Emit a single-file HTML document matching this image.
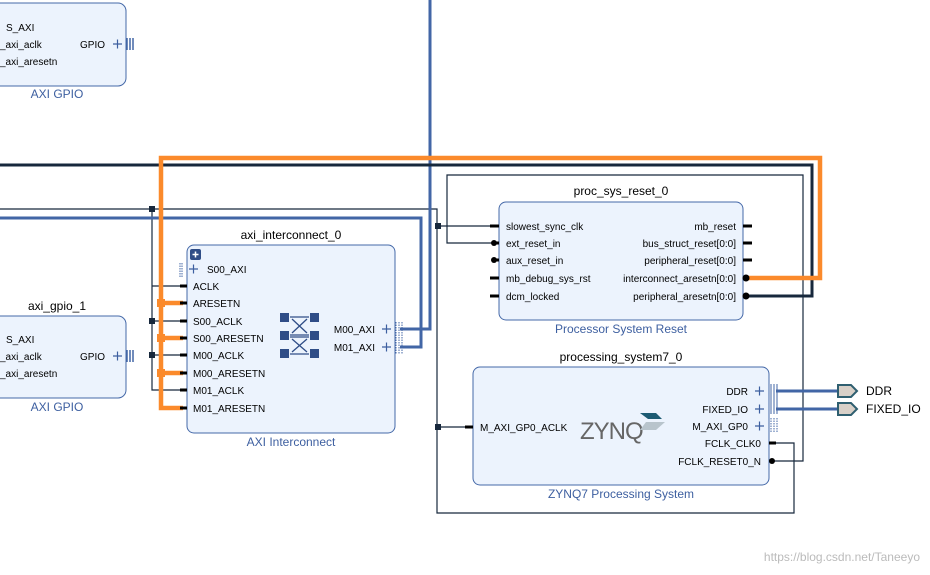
<!DOCTYPE html>
<html><head><meta charset="utf-8"><style>
html,body{margin:0;padding:0;background:#fff;}
svg{display:block;font-family:"Liberation Sans",sans-serif;}
.p{font-size:10px;fill:#000;}
.t{font-size:12px;fill:#000;}
.l{font-size:12px;fill:#3d5fa0;}
.box{fill:#ecf3fd;stroke:#4468a8;stroke-width:1;}
.pin{stroke:#000;stroke-width:3;}
.th{stroke:#17283c;stroke-width:1.2;fill:none;}
.bl{stroke:#4266a6;stroke-width:3;fill:none;}
.or{stroke:#fb8a2b;stroke-width:4.5;fill:none;}
.pl{stroke:#3d5fa0;stroke-width:1.2;}
</style></head><body>
<svg width="930" height="575" viewBox="0 0 930 575">
<!-- thin nets -->
<path class="th" d="M0 209 H437 V513 H794 V443 H772"/>
<path class="th" d="M152 209 V390 H183 M152 286 H183 M152 321 H183 M152 355 H183"/>
<path class="th" d="M438 226 H497 M438 427 H471"/>
<path class="th" d="M495 243 H447 V175 H803 V461 H772"/>
<rect x="149" y="206" width="6" height="6" fill="#17283c"/>
<rect x="149" y="318" width="6" height="6" fill="#17283c"/>
<rect x="149" y="352" width="6" height="6" fill="#17283c"/>
<rect x="435" y="223" width="6" height="6" fill="#17283c"/>
<rect x="435" y="424" width="6" height="6" fill="#17283c"/>
<!-- blue buses -->
<path class="bl" d="M400 329 H430 V0"/>
<path class="bl" d="M400 347 H421 V218 H0"/>
<path class="bl" d="M776 391 H840 M776 409 H840"/>
<!-- dark thick -->
<path d="M0 165 H812 V296 H745" stroke="#17283c" stroke-width="3" fill="none"/>
<!-- orange -->
<path class="or" d="M745 278 H820 V158 H161 V408 H183 M161 303 H183 M161 338 H183 M161 373 H183"/>
<rect x="157" y="299" width="8" height="8" fill="#fb8a2b"/>
<rect x="157" y="334" width="8" height="8" fill="#fb8a2b"/>
<rect x="157" y="369" width="8" height="8" fill="#fb8a2b"/>

<!-- AXI GPIO top -->
<rect class="box" x="-10" y="3" width="136" height="83" rx="8"/>
<text class="p" x="6" y="31">S_AXI</text>
<text class="p" x="0" y="48">_axi_aclk</text>
<text class="p" x="0" y="65">_axi_aresetn</text>
<text class="p" x="80" y="48">GPIO</text>
<path class="pl" d="M113 44 H122 M117.5 39.5 V48.5"/>
<path d="M127 38 V50 M130 38 V50 M133 38 V50" stroke="#4266a6" stroke-width="1.5"/>
<text class="l" x="57" y="98" text-anchor="middle">AXI GPIO</text>

<!-- axi_gpio_1 -->
<text class="t" x="57" y="310" text-anchor="middle">axi_gpio_1</text>
<rect class="box" x="-10" y="316" width="136" height="82" rx="8"/>
<text class="p" x="6" y="343">S_AXI</text>
<text class="p" x="0" y="360">_axi_aclk</text>
<text class="p" x="0" y="377">_axi_aresetn</text>
<text class="p" x="80" y="360">GPIO</text>
<path class="pl" d="M113 356 H122 M117.5 351.5 V360.5"/>
<path d="M127 350 V362 M130 350 V362 M133 350 V362" stroke="#4266a6" stroke-width="1.5"/>
<text class="l" x="57" y="411" text-anchor="middle">AXI GPIO</text>

<!-- interconnect -->
<text class="t" x="291" y="239" text-anchor="middle">axi_interconnect_0</text>
<rect class="box" x="187" y="245" width="208" height="188" rx="7"/>
<rect x="190" y="249" width="11" height="11" rx="2" fill="#2f4d87"/>
<path d="M192.5 254.5 H198.5 M195.5 251.5 V257.5" stroke="#fff" stroke-width="1.5"/>
<path d="M180 263 V277 M182 263 V277" stroke="#4266a6" stroke-width="1" stroke-dasharray="1.5,1"/>
<path class="pl" d="M189 269 H198 M193.5 264.5 V273.5"/>
<text class="p" x="207" y="273">S00_AXI</text>
<g class="p">
<text x="193" y="290">ACLK</text>
<text x="193" y="307">ARESETN</text>
<text x="193" y="325">S00_ACLK</text>
<text x="193" y="342">S00_ARESETN</text>
<text x="193" y="359">M00_ACLK</text>
<text x="193" y="377">M00_ARESETN</text>
<text x="193" y="394">M01_ACLK</text>
<text x="193" y="412">M01_ARESETN</text>
</g>
<path class="pin" d="M180 286 H187 M180 303 H187 M180 321 H187 M180 338 H187 M180 355 H187 M180 373 H187 M180 390 H187 M180 408 H187"/>
<g fill="#2f4d87">
<rect x="280" y="313" width="9" height="9"/><rect x="310" y="313" width="9" height="9"/>
<rect x="280" y="331" width="9" height="9"/><rect x="310" y="331" width="9" height="9"/>
<rect x="280" y="349" width="9" height="9"/><rect x="310" y="349" width="9" height="9"/>
</g>
<path d="M290 317 H309 M290 335 H309 M290 337 H309 M290 354 H309 M292 319 L307 333 M307 319 L292 333 M292 339 L307 352 M307 339 L292 352" stroke="#2f4d87" stroke-width="1.3"/>
<text class="p" x="375" y="333" text-anchor="end">M00_AXI</text>
<text class="p" x="375" y="351" text-anchor="end">M01_AXI</text>
<path class="pl" d="M382 329 H391 M386.5 324.5 V333.5 M382 347 H391 M386.5 342.5 V351.5"/>
<path d="M396 322 V354 M399 322 V354 M402 322 V354" stroke="#4266a6" stroke-width="1" stroke-dasharray="1.5,1"/>
<text class="l" x="291" y="446" text-anchor="middle">AXI Interconnect</text>

<!-- proc_sys_reset -->
<text class="t" x="621" y="195" text-anchor="middle">proc_sys_reset_0</text>
<rect class="box" x="499" y="202" width="244" height="118" rx="7"/>
<g class="p">
<text x="506" y="230">slowest_sync_clk</text>
<text x="506" y="247">ext_reset_in</text>
<text x="506" y="264">aux_reset_in</text>
<text x="506" y="282">mb_debug_sys_rst</text>
<text x="506" y="300">dcm_locked</text>
<text x="736" y="230" text-anchor="end">mb_reset</text>
<text x="736" y="247" text-anchor="end">bus_struct_reset[0:0]</text>
<text x="736" y="264" text-anchor="end">peripheral_reset[0:0]</text>
<text x="736" y="282" text-anchor="end">interconnect_aresetn[0:0]</text>
<text x="736" y="300" text-anchor="end">peripheral_aresetn[0:0]</text>
</g>
<path class="pin" d="M490 226 H499 M496 243 H499 M496 260 H499 M490 278 H499 M490 296 H499 M743 226 H752 M743 243 H752 M743 260 H752"/>
<circle cx="494" cy="243" r="3" fill="#000"/><circle cx="494" cy="260" r="3" fill="#000"/>
<circle cx="746" cy="278" r="3.5" fill="#000"/><circle cx="746" cy="296" r="3.5" fill="#000"/>
<text class="l" x="621" y="333" text-anchor="middle">Processor System Reset</text>

<!-- processing_system -->
<text class="t" x="621" y="361" text-anchor="middle">processing_system7_0</text>
<rect class="box" x="473" y="367" width="296" height="118" rx="7"/>
<text class="p" x="480" y="431">M_AXI_GP0_ACLK</text>
<path class="pin" d="M465 427 H473"/>
<text x="580" y="439" font-size="24" fill="#666" letter-spacing="-1">ZYNQ</text>
<path d="M640 413 L656 413 L662 419 L648 419 Z" fill="#1d5b73"/>
<path d="M646 422 L665 422 L656 430 L640 430 Z" fill="#b8c4cc"/>
<g class="p">
<text x="748" y="395" text-anchor="end">DDR</text>
<text x="748" y="413" text-anchor="end">FIXED_IO</text>
<text x="748" y="430" text-anchor="end">M_AXI_GP0</text>
<text x="761" y="447" text-anchor="end">FCLK_CLK0</text>
<text x="761" y="465" text-anchor="end">FCLK_RESET0_N</text>
</g>
<path class="pl" d="M755 391 H764 M759.5 386.5 V395.5 M755 409 H764 M759.5 404.5 V413.5 M755 426 H764 M759.5 421.5 V430.5"/>
<path d="M771 384 V414 M774 384 V414 M777 384 V414" stroke="#4266a6" stroke-width="1"/>
<path d="M771 418 V433 M774 418 V433 M777 418 V433" stroke="#4266a6" stroke-width="1" stroke-dasharray="1.5,1"/>
<path class="pin" d="M769 443 H776"/>
<circle cx="772" cy="461" r="3" fill="#000"/>
<text class="l" x="621" y="498" text-anchor="middle">ZYNQ7 Processing System</text>

<!-- ext ports -->
<path d="M838 385 H851 L857 391 L851 397 H838 Z M838 403 H851 L857 409 L851 415 H838 Z" fill="#d8d0c8" stroke="#2f5f70" stroke-width="2"/>
<text x="866" y="395" font-size="12" fill="#000">DDR</text>
<text x="866" y="413" font-size="12" fill="#000">FIXED_IO</text>

<text x="920" y="561" font-size="12" fill="#bbb" text-anchor="end">https://blog.csdn.net/Taneeyo</text>
</svg>
</body></html>
